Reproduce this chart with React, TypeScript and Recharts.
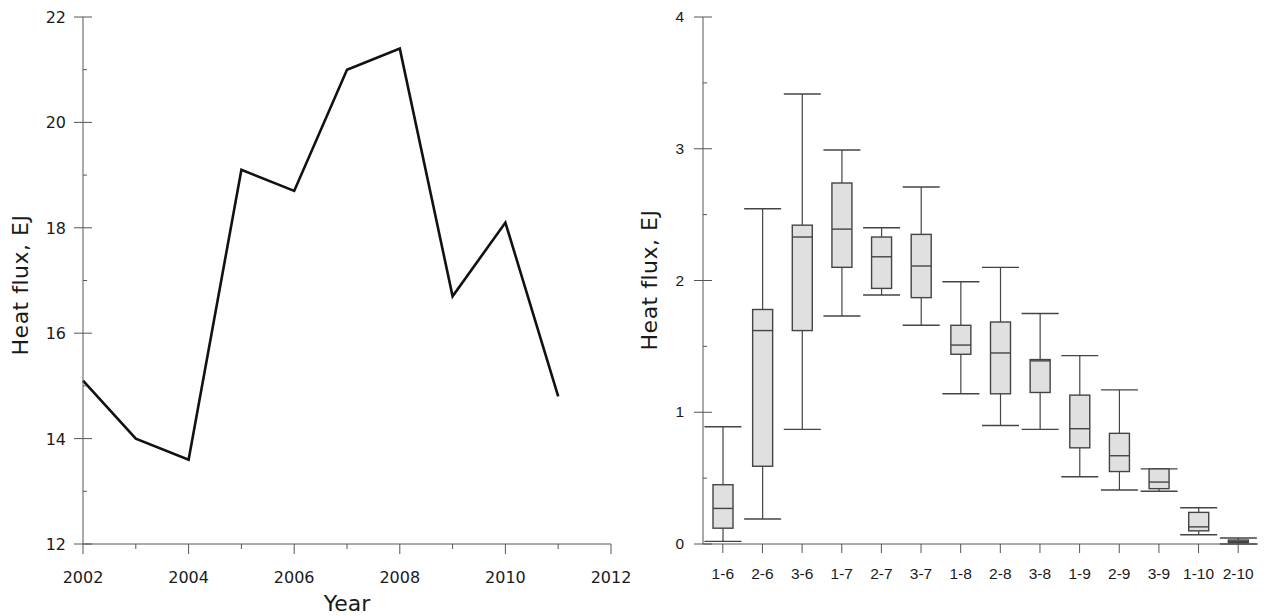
import React from 'react';
import { LineChart, Line, ComposedChart, Bar, XAxis, YAxis } from 'recharts';

// left panel: annual heat flux
const years = [2002, 2003, 2004, 2005, 2006, 2007, 2008, 2009, 2010, 2011];
const heatFlux = [15.1, 14.0, 13.6, 19.1, 18.7, 21.0, 21.4, 16.7, 18.1, 14.8];
const yearTicks = [2002, 2003, 2004, 2005, 2006, 2007, 2008, 2009, 2010, 2011, 2012];
const fluxTicks = [12, 13, 14, 15, 16, 17, 18, 19, 20, 21, 22];

// right panel: box plots per group
const groups = ['1-6', '2-6', '3-6', '1-7', '2-7', '3-7', '1-8', '2-8', '3-8', '1-9', '2-9', '3-9', '1-10', '2-10'];
const mins = [0.02, 0.19, 0.87, 1.73, 1.89, 1.66, 1.14, 0.9, 0.87, 0.51, 0.41, 0.4, 0.07, 0.0];
const q1s = [0.12, 0.59, 1.62, 2.1, 1.94, 1.87, 1.44, 1.14, 1.15, 0.73, 0.55, 0.42, 0.1, 0.01];
const medians = [0.27, 1.62, 2.33, 2.39, 2.18, 2.11, 1.51, 1.45, 1.39, 0.875, 0.67, 0.47, 0.13, 0.02];
const q3s = [0.45, 1.78, 2.42, 2.74, 2.33, 2.35, 1.66, 1.685, 1.4, 1.13, 0.84, 0.57, 0.24, 0.03];
const maxs = [0.89, 2.545, 3.415, 2.99, 2.4, 2.71, 1.99, 2.1, 1.75, 1.43, 1.17, 0.57, 0.275, 0.045];
const boxTicks = [0, 0.5, 1, 1.5, 2, 2.5, 3, 3.5, 4];

const lineData = years.map((year, i) => ({ year, flux: heatFlux[i] }));
const boxData = groups.map((name, i) => ({
  name,
  range: [mins[i], maxs[i]],
  min: mins[i],
  q1: q1s[i],
  median: medians[i],
  q3: q3s[i],
  max: maxs[i],
}));

const AXIS = '#555';
const TEXT = '#1a1a1a';
const LEFT_FONT = 'DejaVu Sans, Verdana, sans-serif';
const RIGHT_FONT = 'Liberation Sans, Arial, sans-serif';

const YearTick = (props: any) => {
  const { x, y, payload } = props;
  const major = payload.value % 2 === 0;
  return (
    <g>
      <line x1={x} x2={x} y1={y} y2={y + (major ? 10 : 5)} stroke={AXIS} strokeWidth={1} />
      {major && (
        <text x={x} y={y + 39} textAnchor="middle" fontSize={16} fill={TEXT} fontFamily={LEFT_FONT}>
          {payload.value}
        </text>
      )}
    </g>
  );
};

const FluxTick = (props: any) => {
  const { x, y, payload } = props;
  const major = payload.value % 2 === 0;
  return (
    <g>
      {major ? (
        <line x1={x - 9} x2={x + 9} y1={y} y2={y} stroke={AXIS} strokeWidth={1} />
      ) : (
        <line x1={x} x2={x + 4} y1={y} y2={y} stroke={AXIS} strokeWidth={1} />
      )}
      {major && (
        <text x={x - 17} y={y + 6} textAnchor="end" fontSize={16} fill={TEXT} fontFamily={LEFT_FONT}>
          {payload.value}
        </text>
      )}
    </g>
  );
};

const GroupTick = (props: any) => {
  const { x, y, payload } = props;
  return (
    <g>
      <line x1={x} x2={x} y1={y} y2={y + 9} stroke={AXIS} strokeWidth={1} />
      <text x={x} y={y + 35} textAnchor="middle" fontSize={15.5} fill={TEXT} fontFamily={RIGHT_FONT}>
        {payload.value}
      </text>
    </g>
  );
};

const BoxTick = (props: any) => {
  const { x, y, payload } = props;
  const major = Number.isInteger(payload.value);
  return (
    <g>
      {major ? (
        <line x1={x - 9} x2={x + 9} y1={y} y2={y} stroke={AXIS} strokeWidth={1} />
      ) : (
        <line x1={x} x2={x + 4} y1={y} y2={y} stroke={AXIS} strokeWidth={1} />
      )}
      {major && (
        <text x={x - 19} y={y + 5} textAnchor="end" fontSize={15.5} fill={TEXT} fontFamily={RIGHT_FONT}>
          {payload.value}
        </text>
      )}
    </g>
  );
};

// bar is drawn over [min, max]; the inner values are placed on the same linear scale
const BoxShape = (props: any) => {
  const { x, y, width, height, payload } = props;
  const { min, q1, median, q3, max } = payload;
  const span = max - min;
  const py = (v: number) => (span === 0 ? y : y + (height * (max - v)) / span);
  const cx = x + width / 2;
  const bw = 20;
  const cw = 37;
  const stroke = '#444';
  return (
    <g>
      <line x1={cx} x2={cx} y1={py(max)} y2={py(q3)} stroke={stroke} strokeWidth={1.2} />
      <line x1={cx} x2={cx} y1={py(q1)} y2={py(min)} stroke={stroke} strokeWidth={1.2} />
      <line x1={cx - cw / 2} x2={cx + cw / 2} y1={py(max)} y2={py(max)} stroke={stroke} strokeWidth={1.4} />
      <line x1={cx - cw / 2} x2={cx + cw / 2} y1={py(min)} y2={py(min)} stroke={stroke} strokeWidth={1.4} />
      <rect
        x={cx - bw / 2}
        y={py(q3)}
        width={bw}
        height={Math.max(py(q1) - py(q3), 1)}
        fill="#e0e0e0"
        stroke={stroke}
        strokeWidth={1.4}
      />
      <line x1={cx - bw / 2} x2={cx + bw / 2} y1={py(median)} y2={py(median)} stroke={stroke} strokeWidth={1.4} />
    </g>
  );
};

const yTitle = (cx: number, cy: number) => () => (
  <text
    x={cx}
    y={cy}
    transform={`rotate(-90 ${cx} ${cy})`}
    textAnchor="middle"
    dominantBaseline="central"
    fontSize={22}
    letterSpacing={0.5}
    fill={TEXT}
    fontFamily={LEFT_FONT}
  >
    Heat flux, EJ
  </text>
);

export default function App() {
  return (
    <div style={{ position: 'absolute', left: 0, top: 0, width: 1270, height: 616, background: '#fff' }}>
      <div style={{ position: 'absolute', left: 0, top: 0 }}>
        <LineChart width={630} height={616} data={lineData} margin={{ top: 17, right: 19, bottom: 0, left: 0 }}>
          <XAxis
            dataKey="year"
            type="number"
            domain={[2002, 2012]}
            ticks={yearTicks}
            interval={0}
            tick={<YearTick />}
            tickLine={false}
            tickSize={0}
            tickMargin={0}
            height={72}
            stroke={AXIS}
            label={{
              content: () => (
                <text x={347} y={603} textAnchor="middle" dominantBaseline="central" fontSize={22} fill={TEXT} fontFamily={LEFT_FONT}>
                  Year
                </text>
              ),
            }}
          />
          <YAxis
            type="number"
            domain={[12, 22]}
            ticks={fluxTicks}
            interval={0}
            tick={<FluxTick />}
            tickLine={false}
            tickSize={0}
            tickMargin={0}
            width={83}
            stroke={AXIS}
            label={{ content: yTitle(20, 285) }}
          />
          <Line dataKey="flux" stroke="#111" strokeWidth={2.6} dot={false} isAnimationActive={false} />
        </LineChart>
      </div>
      <div style={{ position: 'absolute', left: 630, top: 0 }}>
        <ComposedChart width={640} height={616} data={boxData} margin={{ top: 17, right: 12, bottom: 0, left: 0 }} barSize={20}>
          <XAxis
            dataKey="name"
            interval={0}
            tick={<GroupTick />}
            tickLine={false}
            tickSize={0}
            tickMargin={0}
            height={72}
            stroke={AXIS}
          />
          <YAxis
            type="number"
            domain={[0, 4]}
            ticks={boxTicks}
            interval={0}
            tick={<BoxTick />}
            tickLine={false}
            tickSize={0}
            tickMargin={0}
            width={73}
            stroke={AXIS}
            label={{ content: yTitle(19, 280) }}
          />
          <Bar dataKey="range" shape={<BoxShape />} isAnimationActive={false} />
        </ComposedChart>
      </div>
    </div>
  );
}
